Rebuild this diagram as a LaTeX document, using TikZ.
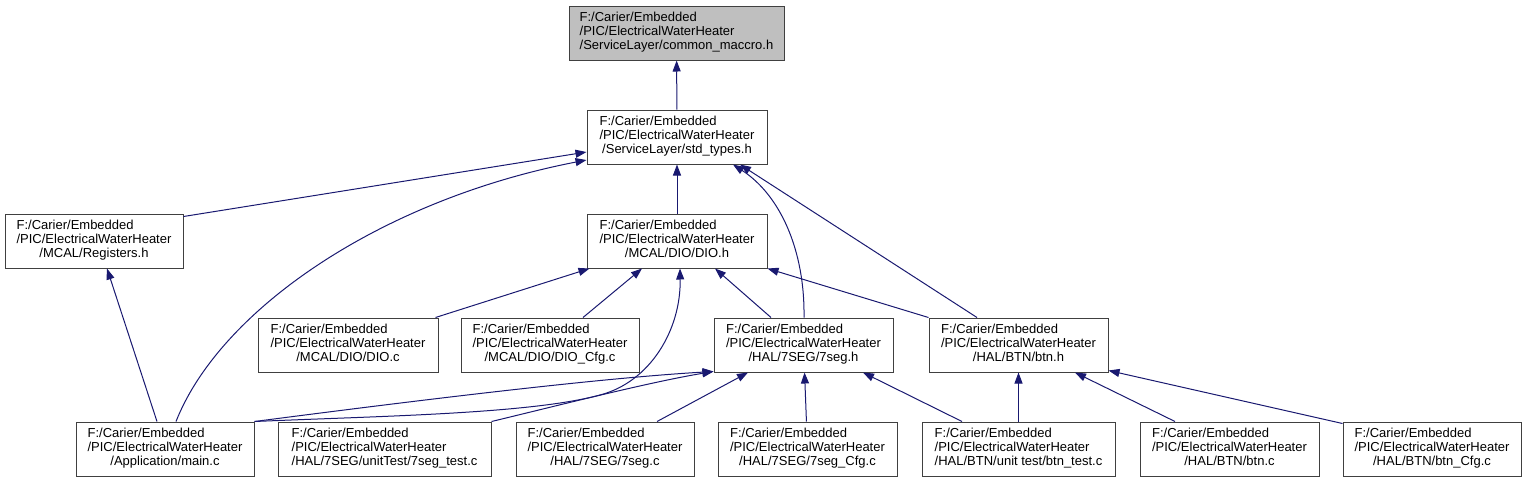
\documentclass[tikz,border=0pt]{standalone}
\usepackage{fontspec}
\setmainfont{Liberation Sans}
\usepackage{tikz}
\usetikzlibrary{arrows.meta}
\definecolor{edgeBlue}{HTML}{191970}
\definecolor{boxLine}{HTML}{404040}
\definecolor{boxFill}{HTML}{BFBFBF}
\newcommand{\filelbl}[1]{\begin{tabular}{@{}l@{}}F:/Carier/Embedded\\/PIC/ElectricalWaterHeater\\\multicolumn{1}{@{}c@{}}{#1}\end{tabular}}

\begin{document}
\begin{tikzpicture}[x=1pt, y=-1pt,
    fbox/.style={rectangle, draw=boxLine, line width=1pt, fill=white,
                 minimum height=54pt, inner sep=0pt, font=\fontsize{13}{14}\selectfont},
    dep/.style={draw=edgeBlue, line width=1pt, -{Triangle[length=11pt, width=8pt]}}]
  \useasboundingbox (0,0) rectangle (1527,483);
  % top of the graph
  \node[fbox, fill=boxFill, minimum width=215pt] (cm) at (676.5,33) {\filelbl{/ServiceLayer/common\_maccro.h}};
  \node[fbox, minimum width=180pt] (st) at (677,137) {\filelbl{/ServiceLayer/std\_types.h}};
  \node[fbox, minimum width=180pt] (dh) at (677,241) {\filelbl{/MCAL/DIO/DIO.h}};
  \node[fbox, minimum width=178pt] (rg) at (94,241) {\filelbl{/MCAL/Registers.h}};
  % middle row
  \foreach \nm/\cx/\bw/\lbl in {dc/348/180/{/MCAL/DIO/DIO.c}, dg/550/178/{/MCAL/DIO/DIO\_Cfg.c},
                               sh/803.5/179/{/HAL/7SEG/7seg.h}, bh/1018.5/179/{/HAL/BTN/btn.h}}
    { \node[fbox, minimum width=\bw] (\nm) at (\cx,345) {\filelbl{\lbl}}; }
  % bottom row
  \foreach \nm/\cx/\bw/\lbl in {mn/165/178/{/Application/main.c}, st7/384.5/213/{/HAL/7SEG/unitTest/7seg\_test.c},
                               sc/605/178/{/HAL/7SEG/7seg.c}, sg/807.5/179/{/HAL/7SEG/7seg\_Cfg.c},
                               bt/1018.5/193/{/HAL/BTN/unit test/btn\_test.c}, bc/1229.5/179/{/HAL/BTN/btn.c},
                               bg/1432/178/{/HAL/BTN/btn\_Cfg.c}}
    { \node[fbox, minimum width=\bw] (\nm) at (\cx,449) {\filelbl{\lbl}}; }

  % include edges
  \draw[dep] (st) -- (cm);
  \draw[dep] ([yshift=-3pt]rg.north east) -- ([yshift=-15pt]st.west);
  \draw[dep] ([xshift=11pt]mn.north) .. controls (220,310) and (380,200) .. ([yshift=-23pt]st.west);
  \draw[dep] (dh) -- (st);
  \draw[dep] ([xshift=0.5pt]sh.north) .. controls (805,250) and (780,195) .. ([xshift=56pt]st.south);
  \draw[dep] ([xshift=-41.5pt]bh.north) -- ([xshift=63pt]st.south);
  \draw[dep] ([xshift=-8pt]mn.north) -- ([xshift=13pt]rg.south);
  \draw[dep] ([xshift=-3pt]dc.north east) -- ([xshift=3pt]dh.south west);
  \draw[dep] ([xshift=33pt]dg.north) -- ([xshift=-35pt]dh.south);
  \draw[dep] (mn.north east) .. controls (380,416) and (530,414) .. (600,395)
                             .. controls (650,382) and (681,330) .. ([xshift=3pt]dh.south);
  \draw[dep] ([xshift=-32.5pt]sh.north) -- ([xshift=38pt]dh.south);
  \draw[dep] (bh.north west) -- (dh.south east);
  \draw[dep] (mn.north east) .. controls (420,400) and (600,378) .. ([yshift=1pt]sh.south west);
  \draw[dep] (st7.north east) .. controls (560,405) and (650,382) .. ([yshift=1pt]sh.south west);
  \draw[dep] ([xshift=52pt]sc.north) -- ([xshift=-55.5pt]sh.south);
  \draw[dep] (sg) -- (sh);
  \draw[dep] ([xshift=-56.5pt]bt.north) -- ([xshift=59.5pt]sh.south);
  \draw[dep] (bt) -- (bh);
  \draw[dep] ([xshift=-54.5pt]bc.north) -- ([xshift=56.5pt]bh.south);
  \draw[dep] ([yshift=-2pt]bg.north west) -- ([yshift=2pt]bh.south east);
\end{tikzpicture}
\end{document}
